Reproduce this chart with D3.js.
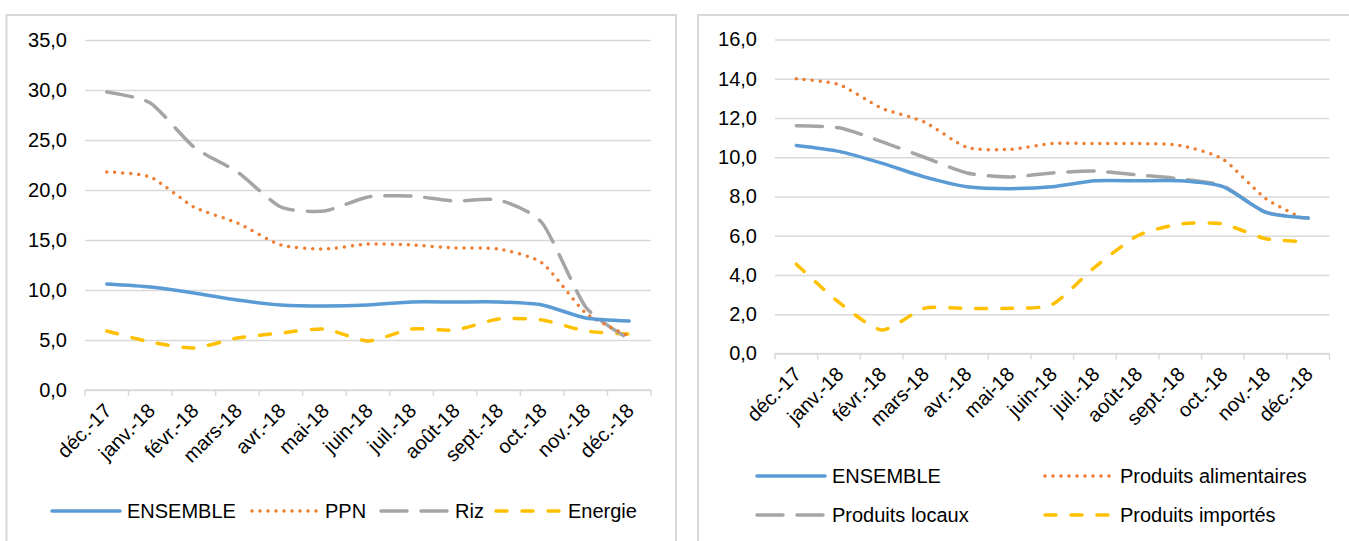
<!DOCTYPE html>
<html>
<head>
<meta charset="utf-8">
<script src="https://cdn.jsdelivr.net/npm/d3@7"></script>
<style>
  html, body { margin: 0; padding: 0; background: #fff; }
  svg { display: block; }
  text { font-family: "Liberation Sans", Arial, sans-serif; fill: #000; }
</style>
</head>
<body>
<svg id="chart" width="1349" height="541"></svg>
<script>
// ---- Data ----
const categories = ["déc.-17", "janv.-18", "févr.-18", "mars-18", "avr.-18", "mai-18", "juin-18",
                    "juil.-18", "août-18", "sept.-18", "oct.-18", "nov.-18", "déc.-18"];

// Left chart
const ensemble = [10.6, 10.3, 9.7, 9.0, 8.5, 8.4, 8.5, 8.8, 8.8, 8.8, 8.5, 7.2, 6.9];
const ppn      = [21.8, 21.3, 18.3, 16.7, 14.5, 14.1, 14.6, 14.5, 14.2, 14.1, 12.7, 7.7, 5.4];
const riz      = [29.8, 28.7, 24.3, 21.8, 18.3, 17.9, 19.3, 19.4, 18.9, 19.0, 16.7, 8.3, 5.1];
const energie  = [5.9, 4.8, 4.2, 5.2, 5.7, 6.1, 4.9, 6.1, 6.0, 7.1, 7.0, 5.9, 5.6];
const leftTicks = [0, 5, 10, 15, 20, 25, 30, 35];

// Right chart
const alimentaires = [14.0, 13.7, 12.5, 11.8, 10.5, 10.4, 10.7, 10.7, 10.7, 10.6, 9.9, 7.9, 6.75];
const locaux       = [11.6, 11.5, 10.8, 10.0, 9.2, 9.0, 9.2, 9.3, 9.1, 8.9, 8.55, 7.2, 6.9];
const importes     = [4.55, 2.6, 1.2, 2.3, 2.3, 2.3, 2.5, 4.4, 6.0, 6.6, 6.6, 5.85, 5.7];
const rightTicks = [0, 2, 4, 6, 8, 10, 12, 14, 16];

// ---- Styles ----
const styles = {
  ensemble: { color: "#5B9BD5", dash: null, cap: "round" },
  dots:     { color: "#ED7D31", dash: "0 8", cap: "round" },
  longdash: { color: "#A5A5A5", dash: "26 14", cap: "round" },
  dash:     { color: "#FFC000", dash: "11 15", cap: "round" }
};
const FONT = 20;

const fmt = v => d3.format(".1f")(v).replace(".", ",");
const svg = d3.select("#chart");

// Chart frames
svg.append("rect").attr("x", 6.5).attr("y", 15).attr("width", 669.5).attr("height", 560)
  .attr("fill", "none").attr("stroke", "#D9D9D9").attr("stroke-width", 2);
svg.append("rect").attr("x", 698).attr("y", 15).attr("width", 700).attr("height", 560)
  .attr("fill", "none").attr("stroke", "#D9D9D9").attr("stroke-width", 2);

function drawChart(cfg) {
  const g = svg.append("g");
  const x = d3.scaleBand().domain(categories).range([cfg.x0, cfg.x1]);
  const y = d3.scaleLinear().domain([0, cfg.ticks[cfg.ticks.length - 1]]).range([cfg.y0, cfg.y1]);

  // gridlines + y labels
  const yAxis = d3.axisLeft(y).tickValues(cfg.ticks).tickSize(-(cfg.x1 - cfg.x0)).tickPadding(18).tickFormat(fmt);
  const ya = g.append("g").attr("transform", `translate(${cfg.x0},0)`).call(yAxis);
  ya.select(".domain").remove();
  ya.selectAll(".tick line").attr("stroke", "#D9D9D9").attr("stroke-width", 1.5);
  ya.selectAll(".tick text").attr("font-size", FONT).attr("fill", "#000")
    .attr("font-family", '"Liberation Sans", Arial, sans-serif');

  // x axis: ticks at band boundaries
  const ax = g.append("g").attr("transform", `translate(0,${cfg.y0})`);
  ax.append("line").attr("x1", cfg.x0).attr("x2", cfg.x1).attr("stroke", "#D9D9D9").attr("stroke-width", 1.5);
  const bounds = categories.map(c => x(c)).concat([cfg.x1]);
  ax.selectAll("line.tk").data(bounds).enter().append("line").attr("class", "tk")
    .attr("x1", d => d).attr("x2", d => d).attr("y1", 0).attr("y2", 6)
    .attr("stroke", "#D9D9D9").attr("stroke-width", 1.5);
  ax.selectAll("text").data(categories).enter().append("text")
    .attr("transform", d => `translate(${x(d) + x.bandwidth() / 2 + 6},${cfg.labelDy}) rotate(-45)`)
    .attr("text-anchor", "end").attr("font-size", FONT).text(d => d);

  // lines
  const line = d3.line()
    .x((d, i) => x(categories[i]) + x.bandwidth() / 2)
    .y(d => y(d))
    .curve(d3.curveCardinal.tension(0.35));
  cfg.series.slice().reverse().forEach(s => {
    const st = styles[s.style];
    g.append("path").datum(s.values).attr("d", line)
      .attr("fill", "none").attr("stroke", st.color).attr("stroke-width", 3.5)
      .attr("stroke-linecap", st.cap).attr("stroke-linejoin", "round")
      .attr("stroke-dasharray", st.dash);
  });

  // legend
  cfg.series.forEach(s => {
    const st = styles[s.style];
    const L = s.legend;
    g.append("line").attr("x1", L.x).attr("x2", L.x + L.len).attr("y1", L.y).attr("y2", L.y)
      .attr("stroke", st.color).attr("stroke-width", 3.5).attr("stroke-linecap", st.cap)
      .attr("stroke-dasharray", st.dash);
    g.append("text").attr("x", L.x + L.len + 7).attr("y", L.y).attr("dy", "0.35em")
      .attr("font-size", FONT).text(s.name);
  });
}

drawChart({
  x0: 85, x1: 651, y0: 390, y1: 40, ticks: leftTicks, labelDy: 22,
  series: [
    { name: "ENSEMBLE", values: ensemble, style: "ensemble", legend: { x: 52, y: 511, len: 68 } },
    { name: "PPN", values: ppn, style: "dots", legend: { x: 252, y: 511, len: 66 } },
    { name: "Riz", values: riz, style: "longdash", legend: { x: 381, y: 511, len: 67 } },
    { name: "Energie", values: energie, style: "dash", legend: { x: 496, y: 511, len: 65 } }
  ]
});

drawChart({
  x0: 775, x1: 1329.5, y0: 353.5, y1: 39.5, ticks: rightTicks, labelDy: 22,
  series: [
    { name: "ENSEMBLE", values: ensemble, style: "ensemble", legend: { x: 757, y: 476, len: 68 } },
    { name: "Produits alimentaires", values: alimentaires, style: "dots", legend: { x: 1045, y: 476, len: 68 } },
    { name: "Produits locaux", values: locaux, style: "longdash", legend: { x: 757, y: 515, len: 68 } },
    { name: "Produits importés", values: importes, style: "dash", legend: { x: 1045, y: 515, len: 68 } }
  ]
});
</script>
</body>
</html>
